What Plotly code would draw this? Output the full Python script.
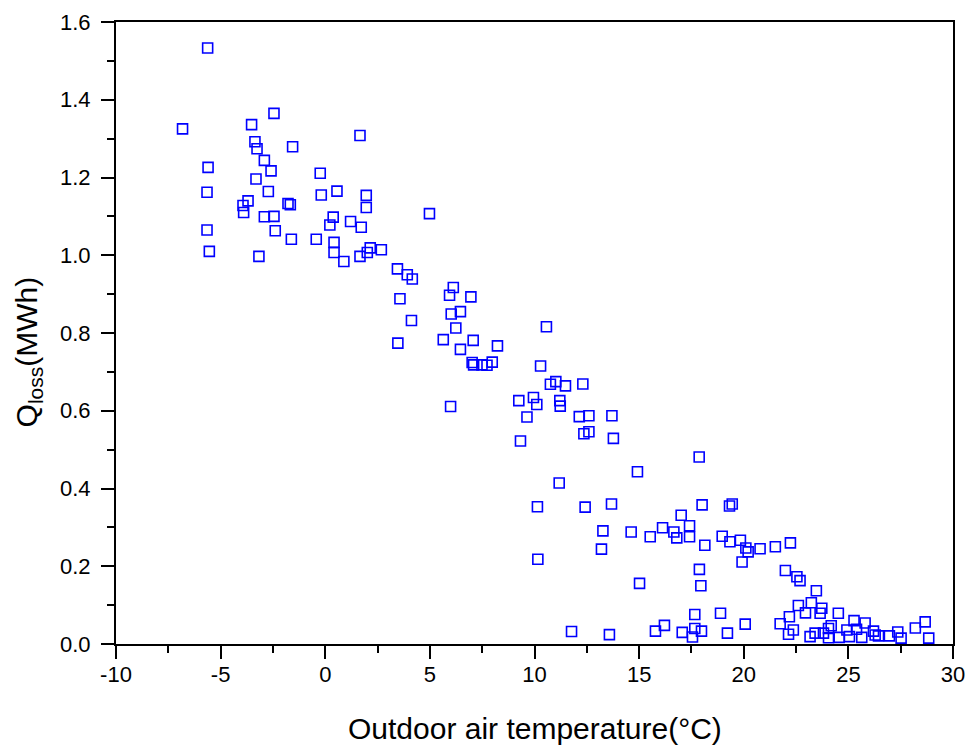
import plotly.graph_objects as go

# Outdoor air temperature (°C)
temperature = [
    -5.62, -6.82, -2.45, -3.52, -3.36, -3.26, -1.56, -2.91, -2.59, -5.60,
    -3.31, -0.24, -5.65, -2.72, -0.19, 0.56, -3.93, -3.90, -3.69, -1.78,
    -1.67, -2.91, -2.45, 0.38, 0.22, -5.65, -2.39, -1.62, -0.43, 0.42,
    0.42, -5.54, -3.17, 1.66, 1.96, 1.96, 4.98, 1.21, 1.72, 0.89,
    2.15, 2.01, 2.68, 1.66, 3.45, 3.92, 4.16, 6.12, 5.94, 6.96,
    3.57, 6.46, 6.02, 4.12, 6.24, 10.57, 3.47, 5.64, 7.07, 6.46,
    8.23, 7.02, 7.09, 7.49, 7.73, 7.98, 10.29, 11.02, 10.76, 11.48,
    9.25, 9.95, 10.11, 11.21, 11.23, 5.99, 9.64, 12.31, 12.14, 12.60,
    13.70, 12.36, 12.60, 13.77, 9.33, 14.92, 11.18, 10.14, 12.42, 13.68,
    13.27, 14.62, 15.53, 16.12, 13.20, 10.16, 15.02, 11.77, 13.58, 15.78,
    16.21, 17.87, 18.01, 19.32, 19.45, 17.01, 17.41, 16.66, 16.80, 17.41,
    18.14, 18.97, 19.34, 19.84, 20.10, 20.21, 20.78, 19.92, 21.51, 22.23,
    17.88, 17.95, 21.99, 22.54, 22.69, 17.66, 18.89, 17.06, 17.66, 17.55,
    17.98, 19.22, 20.07, 21.74, 22.18, 22.14, 22.37, 22.61, 23.47, 23.23,
    23.73, 23.65, 22.95, 24.52, 23.17, 23.41, 23.81, 24.05, 24.18, 24.05,
    24.56, 25.27, 24.93, 25.39, 25.80, 25.05, 25.64, 26.20, 26.28, 26.44,
    26.96, 27.36, 27.52, 28.20, 28.67, 28.84,
]

# Heat loss Q_loss (MWh)
q_loss = [
    1.533, 1.325, 1.365, 1.336, 1.292, 1.274, 1.279, 1.244, 1.217, 1.226,
    1.196, 1.211, 1.162, 1.164, 1.155, 1.165, 1.128, 1.110, 1.140, 1.133,
    1.130, 1.099, 1.100, 1.098, 1.078, 1.065, 1.063, 1.041, 1.041, 1.033,
    1.007, 1.010, 0.997, 1.308, 1.154, 1.123, 1.107, 1.087, 1.072, 0.984,
    1.019, 1.007, 1.014, 0.997, 0.965, 0.950, 0.939, 0.917, 0.897, 0.893,
    0.888, 0.855, 0.849, 0.832, 0.813, 0.816, 0.774, 0.783, 0.781, 0.758,
    0.767, 0.724, 0.718, 0.718, 0.717, 0.725, 0.715, 0.675, 0.668, 0.664,
    0.626, 0.634, 0.616, 0.626, 0.612, 0.611, 0.584, 0.669, 0.585, 0.587,
    0.587, 0.541, 0.546, 0.529, 0.522, 0.443, 0.414, 0.353, 0.352, 0.360,
    0.291, 0.288, 0.276, 0.299, 0.244, 0.218, 0.156, 0.032, 0.024, 0.033,
    0.048, 0.481, 0.358, 0.355, 0.360, 0.331, 0.304, 0.288, 0.273, 0.276,
    0.254, 0.277, 0.263, 0.267, 0.247, 0.237, 0.245, 0.211, 0.250, 0.260,
    0.192, 0.150, 0.189, 0.173, 0.163, 0.076, 0.079, 0.030, 0.040, 0.018,
    0.033, 0.028, 0.051, 0.052, 0.070, 0.025, 0.036, 0.099, 0.137, 0.106,
    0.092, 0.079, 0.080, 0.079, 0.019, 0.028, 0.028, 0.040, 0.047, 0.016,
    0.017, 0.060, 0.036, 0.038, 0.054, 0.019, 0.017, 0.033, 0.023, 0.021,
    0.021, 0.031, 0.015, 0.041, 0.057, 0.015,
]

x_ticks = [-10, -5, 0, 5, 10, 15, 20, 25, 30]
y_ticks = [0.0, 0.2, 0.4, 0.6, 0.8, 1.0, 1.2, 1.4, 1.6]

x_title = "Outdoor air temperature(°C)"
y_title = "Q<sub>loss</sub>(MWh)"

FONT = "Liberation Sans, Arial, sans-serif"

fig = go.Figure()
fig.add_trace(go.Scatter(
    x=temperature, y=q_loss, mode="markers",
    marker=dict(symbol="square-open", size=10, color="#0000FF",
                line=dict(width=1.6, color="#0000FF")),
    showlegend=False,
))

axis_common = dict(
    showline=True, linecolor="black", linewidth=2, mirror=True,
    ticks="outside", ticklen=13, tickwidth=2, tickcolor="black",
    showgrid=False, zeroline=False, automargin=False,
    tickfont=dict(family=FONT, size=22, color="black"),
)

fig.update_xaxes(
    range=[-10, 30], tickvals=x_ticks, ticktext=[str(v) for v in x_ticks],
    minor=dict(dtick=2.5, ticks="outside", ticklen=7, tickwidth=2, tickcolor="black"),
    ticklabelstandoff=-3,
    **axis_common,
)
fig.update_yaxes(
    range=[0, 1.6], tickvals=y_ticks, ticktext=[f"{v:.1f}" for v in y_ticks],
    minor=dict(dtick=0.1, ticks="outside", ticklen=7, tickwidth=2, tickcolor="black"),
    ticklabelstandoff=6,
    **axis_common,
)

fig.add_annotation(
    text=x_title, xref="paper", yref="paper", x=0.5, y=-0.136,
    xanchor="center", yanchor="middle", showarrow=False,
    font=dict(family=FONT, size=30, color="black"),
)
fig.add_annotation(
    text=y_title, xref="paper", yref="paper", x=-0.105, y=0.469,
    xanchor="center", yanchor="middle", showarrow=False, textangle=-90,
    font=dict(family=FONT, size=30, color="black"),
)

fig.update_layout(
    width=966, height=747,
    margin=dict(l=116, r=13, t=22, b=103),
    plot_bgcolor="white", paper_bgcolor="white",
)

fig.write_html("out.html", config={"displayModeBar": False},
               post_script="document.body.style.margin='0';")
